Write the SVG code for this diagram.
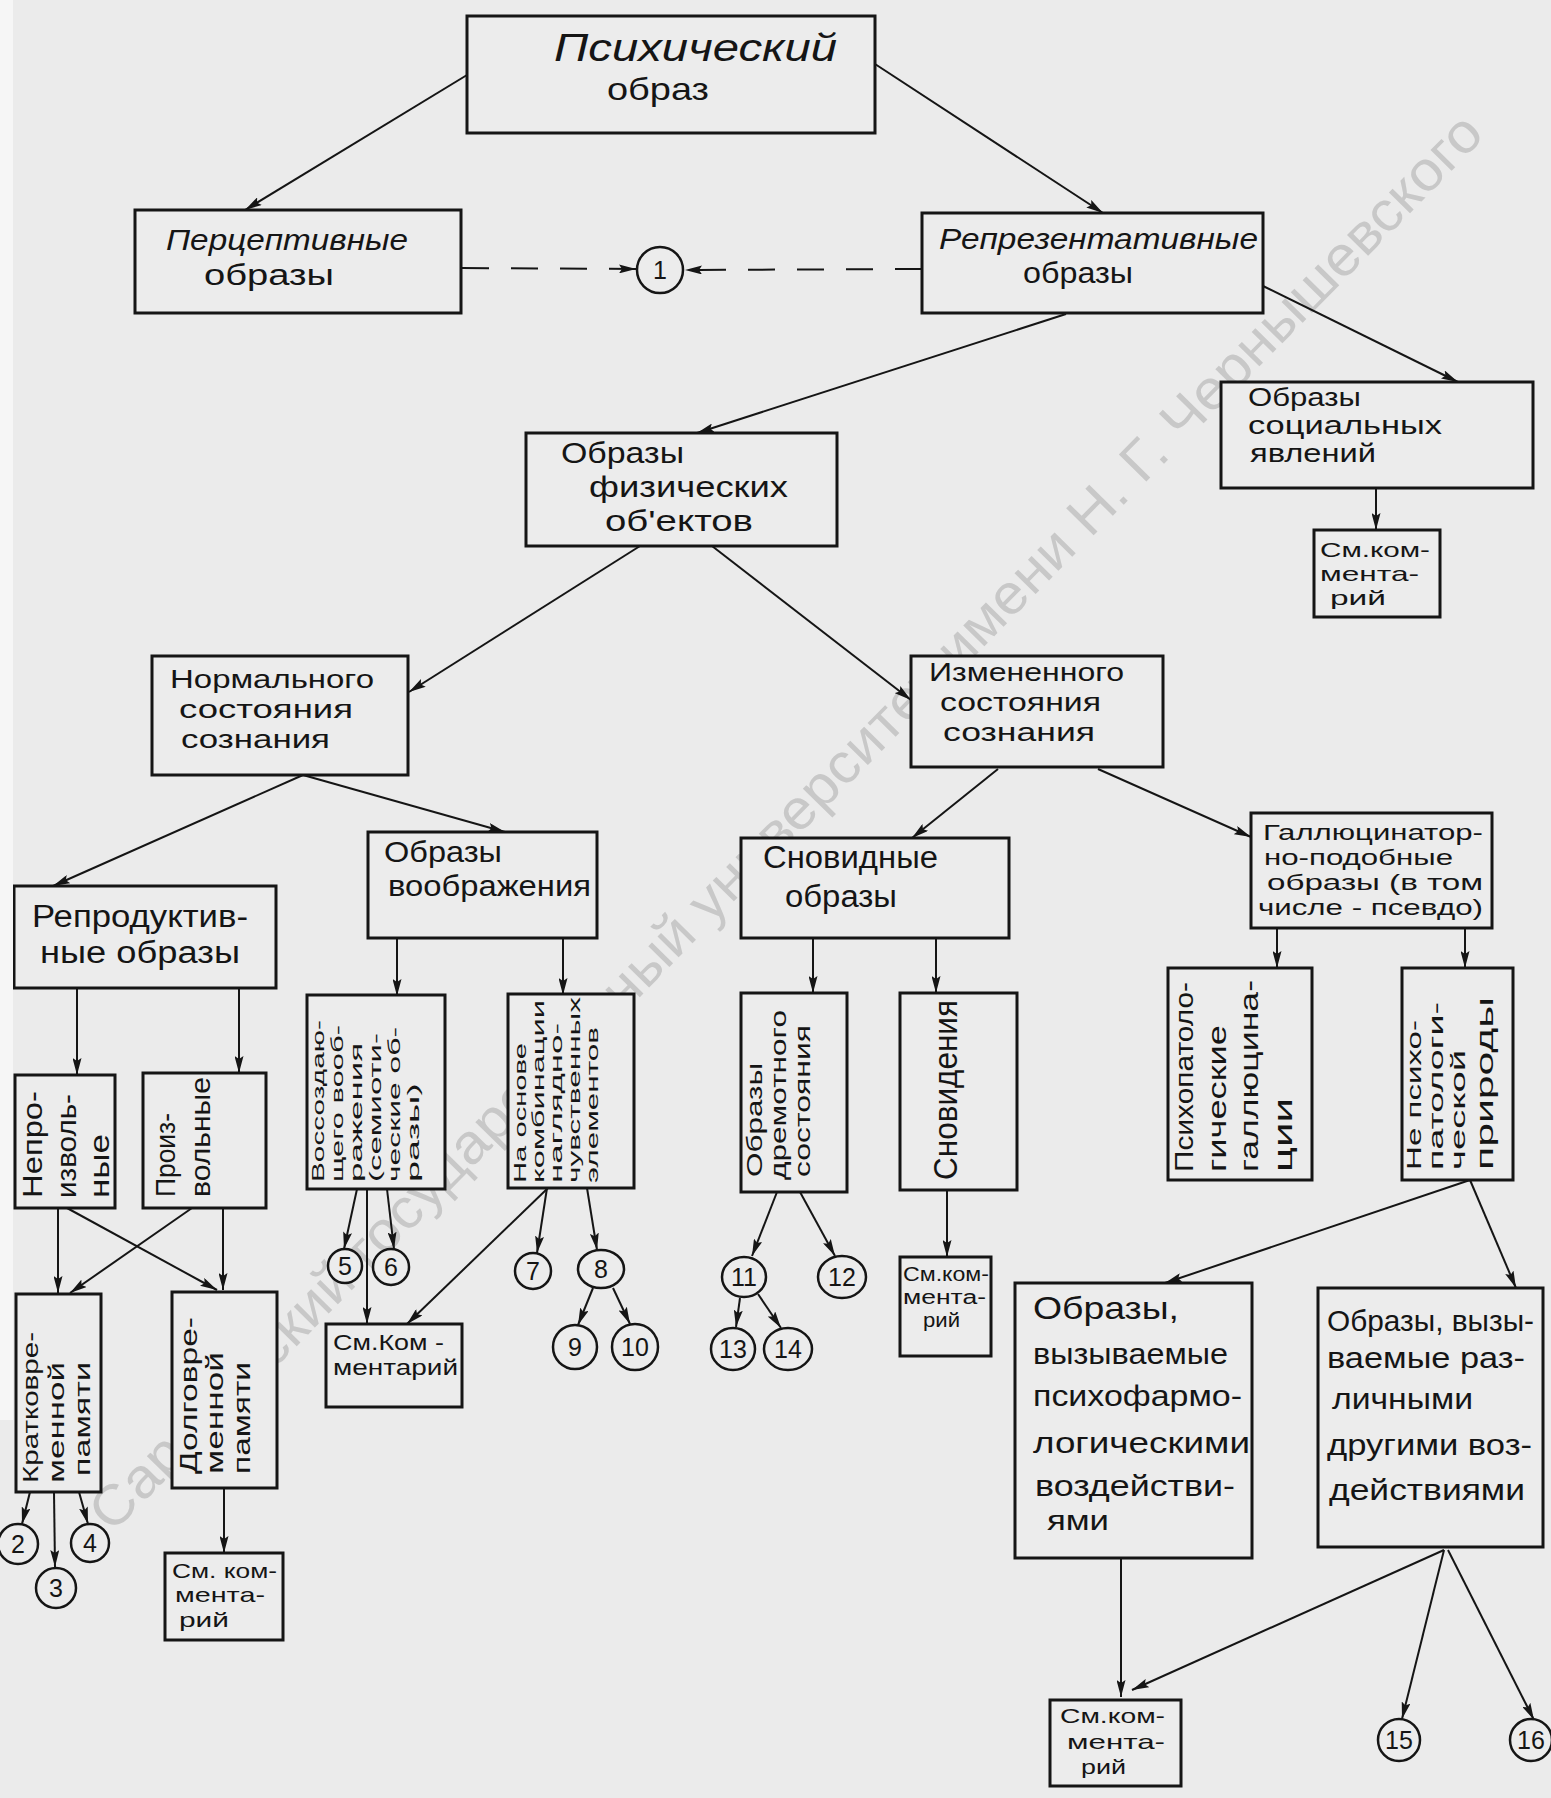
<svg xmlns="http://www.w3.org/2000/svg" width="1551" height="1798" viewBox="0 0 1551 1798">
<style>
.t{font-family:"Liberation Sans",Arial,sans-serif;fill:#151515}
.i{font-style:italic}
.box{fill:#ececec;stroke:#151515;stroke-width:3}
.c{fill:#ececec;stroke:#151515;stroke-width:2.5}
.ln{fill:none;stroke:#151515;stroke-width:2;marker-end:url(#ah)}
.dash{fill:none;stroke:#151515;stroke-width:2;stroke-dasharray:27 22;marker-end:url(#ah)}
.n{font-family:"Liberation Sans",Arial,sans-serif;fill:#151515;font-size:25px;text-anchor:middle}
.wm{font-family:"Liberation Sans",Arial,sans-serif;fill:#c8c8c8;font-size:56px;text-anchor:middle}
</style>
<defs>
<marker id="ah" viewBox="0 0 17 9" refX="17" refY="4.5" markerWidth="17" markerHeight="9" markerUnits="userSpaceOnUse" orient="auto">
<path d="M0,0 L17,4.5 L0,9 L3,4.5 z" fill="#151515"/>
</marker>
</defs>
<rect x="0" y="0" width="1551" height="1798" fill="#ebebeb"/>
<text class="wm" transform="translate(799,835) rotate(-45.5)" textLength="1960" lengthAdjust="spacingAndGlyphs">Саратовский государственный университет имени Н. Г. Чернышевского</text>

<g id="connectors">
<path class="ln" d="M467,75 L245,210"/>
<path class="ln" d="M875,64 L1103,213"/>
<path class="dash" d="M462,268 L636,269"/>
<path class="dash" d="M922,269 L685,270"/>
<path class="ln" d="M1066,314 L697,433"/>
<path class="ln" d="M1263,286 L1458,382"/>
<path class="ln" d="M1376,488 L1376,530"/>
<path class="ln" d="M640,546 L409,692"/>
<path class="ln" d="M712,546 L911,700"/>
<path class="ln" d="M303,775 L53,886"/>
<path class="ln" d="M303,775 L505,832"/>
<path class="ln" d="M77,988 L77,1075"/>
<path class="ln" d="M239,988 L239,1073"/>
<path class="ln" d="M58,1208 L58,1293"/>
<path class="ln" d="M67,1208 L217,1290"/>
<path class="ln" d="M192,1208 L70,1293"/>
<path class="ln" d="M223,1208 L223,1290"/>
<path class="ln" d="M30,1492 L22,1524"/>
<path class="ln" d="M54,1492 L55,1567"/>
<path class="ln" d="M79,1492 L88,1524"/>
<path class="ln" d="M224,1488 L224,1553"/>
<path class="ln" d="M397,938 L397,996"/>
<path class="ln" d="M563,938 L563,995"/>
<path class="ln" d="M357,1189 L344,1249"/>
<path class="ln" d="M367,1189 L367,1324"/>
<path class="ln" d="M387,1189 L394,1249"/>
<path class="ln" d="M548,1188 L407,1324"/>
<path class="ln" d="M547,1188 L537,1253"/>
<path class="ln" d="M587,1188 L597,1250"/>
<path class="ln" d="M593,1288 L578,1325"/>
<path class="ln" d="M613,1288 L630,1324"/>
<path class="ln" d="M998,769 L912,838"/>
<path class="ln" d="M1098,769 L1251,837"/>
<path class="ln" d="M813,938 L813,993"/>
<path class="ln" d="M936,938 L936,993"/>
<path class="ln" d="M777,1192 L752,1256"/>
<path class="ln" d="M800,1192 L835,1256"/>
<path class="ln" d="M740,1298 L736,1327"/>
<path class="ln" d="M758,1294 L781,1328"/>
<path class="ln" d="M947,1190 L947,1257"/>
<path class="ln" d="M1277,928 L1277,968"/>
<path class="ln" d="M1465,928 L1465,968"/>
<path class="ln" d="M1470,1180 L1165,1283"/>
<path class="ln" d="M1470,1180 L1516,1288"/>
<path class="ln" d="M1121,1558 L1121,1697"/>
<path class="ln" d="M1444,1550 L1132,1690"/>
<path class="ln" d="M1444,1550 L1402,1719"/>
<path class="ln" d="M1448,1550 L1534,1720"/>
</g>

<g id="n-psych">
<rect class="box" x="467" y="16" width="408" height="117"/>
<text class="t i" x="554" y="61" font-size="38" textLength="283" lengthAdjust="spacingAndGlyphs">Психический</text>
<text class="t" x="607" y="100" font-size="32" textLength="102" lengthAdjust="spacingAndGlyphs">образ</text>
</g>
<g id="n-percept">
<rect class="box" x="135" y="210" width="326" height="103"/>
<text class="t i" x="166" y="250" font-size="30" textLength="242" lengthAdjust="spacingAndGlyphs">Перцептивные</text>
<text class="t" x="204" y="285" font-size="30" textLength="130" lengthAdjust="spacingAndGlyphs">образы</text>
</g>
<g id="n-one">
<circle class="c" cx="660" cy="270" r="23"/>
<text class="n" x="660" y="279">1</text>
</g>
<g id="n-repr">
<rect class="box" x="922" y="213" width="341" height="100"/>
<text class="t i" x="939" y="249" font-size="30" textLength="319" lengthAdjust="spacingAndGlyphs">Репрезентативные</text>
<text class="t" x="1023" y="283" font-size="30" textLength="110" lengthAdjust="spacingAndGlyphs">образы</text>
</g>
<g id="n-social">
<rect class="box" x="1221" y="382" width="312" height="106"/>
<text class="t" x="1248" y="406" font-size="25" textLength="113" lengthAdjust="spacingAndGlyphs">Образы</text>
<text class="t" x="1248" y="434" font-size="25" textLength="194" lengthAdjust="spacingAndGlyphs">социальных</text>
<text class="t" x="1250" y="462" font-size="25" textLength="126" lengthAdjust="spacingAndGlyphs">явлений</text>
</g>
<g id="n-social-see">
<rect class="box" x="1314" y="530" width="126" height="87"/>
<text class="t" x="1320" y="557" font-size="21" textLength="110" lengthAdjust="spacingAndGlyphs">См.ком-</text>
<text class="t" x="1320" y="581" font-size="21" textLength="99" lengthAdjust="spacingAndGlyphs">мента-</text>
<text class="t" x="1330" y="605" font-size="21" textLength="56" lengthAdjust="spacingAndGlyphs">рий</text>
</g>
<g id="n-phys">
<rect class="box" x="526" y="433" width="311" height="113"/>
<text class="t" x="561" y="463" font-size="29" textLength="123" lengthAdjust="spacingAndGlyphs">Образы</text>
<text class="t" x="589" y="497" font-size="29" textLength="199" lengthAdjust="spacingAndGlyphs">физических</text>
<text class="t" x="605" y="531" font-size="29" textLength="148" lengthAdjust="spacingAndGlyphs">об'ектов</text>
</g>
<g id="n-norm">
<rect class="box" x="152" y="656" width="256" height="119"/>
<text class="t" x="170" y="688" font-size="26" textLength="204" lengthAdjust="spacingAndGlyphs">Нормального</text>
<text class="t" x="179" y="718" font-size="26" textLength="174" lengthAdjust="spacingAndGlyphs">состояния</text>
<text class="t" x="181" y="748" font-size="26" textLength="149" lengthAdjust="spacingAndGlyphs">сознания</text>
</g>
<g id="n-changed">
<rect class="box" x="911" y="656" width="252" height="111"/>
<text class="t" x="929" y="681" font-size="26" textLength="195" lengthAdjust="spacingAndGlyphs">Измененного</text>
<text class="t" x="940" y="711" font-size="26" textLength="161" lengthAdjust="spacingAndGlyphs">состояния</text>
<text class="t" x="943" y="741" font-size="26" textLength="152" lengthAdjust="spacingAndGlyphs">сознания</text>
</g>
<g id="n-repro">
<rect class="box" x="14" y="886" width="262" height="102"/>
<text class="t" x="32" y="927" font-size="31" textLength="216" lengthAdjust="spacingAndGlyphs">Репродуктив-</text>
<text class="t" x="40" y="963" font-size="31" textLength="200" lengthAdjust="spacingAndGlyphs">ные образы</text>
</g>
<g id="n-imag">
<rect class="box" x="368" y="832" width="229" height="106"/>
<text class="t" x="384" y="862" font-size="29" textLength="118" lengthAdjust="spacingAndGlyphs">Образы</text>
<text class="t" x="388" y="896" font-size="29" textLength="203" lengthAdjust="spacingAndGlyphs">воображения</text>
</g>
<g id="n-dreamlike">
<rect class="box" x="741" y="838" width="268" height="100"/>
<text class="t" x="763" y="868" font-size="31" textLength="175" lengthAdjust="spacingAndGlyphs">Сновидные</text>
<text class="t" x="785" y="907" font-size="31" textLength="112" lengthAdjust="spacingAndGlyphs">образы</text>
</g>
<g id="n-halluc">
<rect class="box" x="1251" y="813" width="241" height="115"/>
<text class="t" x="1263" y="840" font-size="22" textLength="220" lengthAdjust="spacingAndGlyphs">Галлюцинатор-</text>
<text class="t" x="1264" y="865" font-size="22" textLength="189" lengthAdjust="spacingAndGlyphs">но-подобные</text>
<text class="t" x="1267" y="890" font-size="22" textLength="216" lengthAdjust="spacingAndGlyphs">образы (в том</text>
<text class="t" x="1258" y="915" font-size="22" textLength="225" lengthAdjust="spacingAndGlyphs">числе - псевдо)</text>
</g>
<g id="n-involuntary">
<rect class="box" x="15" y="1075" width="100" height="133"/>
<text class="t" transform="translate(42,1198) rotate(-90)" font-size="27" textLength="107" lengthAdjust="spacingAndGlyphs">Непро-</text>
<text class="t" transform="translate(76,1198) rotate(-90)" font-size="27" textLength="104" lengthAdjust="spacingAndGlyphs">изволь-</text>
<text class="t" transform="translate(109,1198) rotate(-90)" font-size="27" textLength="64" lengthAdjust="spacingAndGlyphs">ные</text>
</g>
<g id="n-voluntary">
<rect class="box" x="143" y="1073" width="123" height="135"/>
<text class="t" transform="translate(175,1197) rotate(-90)" font-size="27" textLength="84" lengthAdjust="spacingAndGlyphs">Произ-</text>
<text class="t" transform="translate(210,1197) rotate(-90)" font-size="27" textLength="120" lengthAdjust="spacingAndGlyphs">вольные</text>
</g>
<g id="n-short">
<rect class="box" x="16" y="1294" width="85" height="198"/>
<text class="t" transform="translate(38,1483) rotate(-90)" font-size="22" textLength="151" lengthAdjust="spacingAndGlyphs">Кратковре-</text>
<text class="t" transform="translate(64,1483) rotate(-90)" font-size="22" textLength="121" lengthAdjust="spacingAndGlyphs">менной</text>
<text class="t" transform="translate(90,1476) rotate(-90)" font-size="22" textLength="114" lengthAdjust="spacingAndGlyphs">памяти</text>
</g>
<g id="n-long">
<rect class="box" x="172" y="1292" width="105" height="196"/>
<text class="t" transform="translate(197,1474) rotate(-90)" font-size="23" textLength="157" lengthAdjust="spacingAndGlyphs">Долговре-</text>
<text class="t" transform="translate(223,1474) rotate(-90)" font-size="23" textLength="122" lengthAdjust="spacingAndGlyphs">менной</text>
<text class="t" transform="translate(250,1474) rotate(-90)" font-size="23" textLength="112" lengthAdjust="spacingAndGlyphs">памяти</text>
</g>
<g id="n-c2"><circle class="c" cx="18" cy="1544" r="20"/><text class="n" x="18" y="1553">2</text></g>
<g id="n-c3"><circle class="c" cx="56" cy="1588" r="20"/><text class="n" x="56" y="1597">3</text></g>
<g id="n-c4"><circle class="c" cx="90" cy="1543" r="19"/><text class="n" x="90" y="1552">4</text></g>
<g id="n-long-see">
<rect class="box" x="165" y="1553" width="118" height="87"/>
<text class="t" x="172" y="1578" font-size="21" textLength="105" lengthAdjust="spacingAndGlyphs">См. ком-</text>
<text class="t" x="175" y="1602" font-size="21" textLength="90" lengthAdjust="spacingAndGlyphs">мента-</text>
<text class="t" x="179" y="1627" font-size="21" textLength="50" lengthAdjust="spacingAndGlyphs">рий</text>
</g>
<g id="n-recreating">
<rect class="box" x="307" y="995" width="138" height="194"/>
<text class="t" transform="translate(324,1182) rotate(-90)" font-size="17" textLength="162" lengthAdjust="spacingAndGlyphs">Воссоздаю-</text>
<text class="t" transform="translate(343,1182) rotate(-90)" font-size="17" textLength="157" lengthAdjust="spacingAndGlyphs">щего вооб-</text>
<text class="t" transform="translate(362,1182) rotate(-90)" font-size="17" textLength="139" lengthAdjust="spacingAndGlyphs">ражения</text>
<text class="t" transform="translate(381,1182) rotate(-90)" font-size="17" textLength="149" lengthAdjust="spacingAndGlyphs">(семиоти-</text>
<text class="t" transform="translate(400,1182) rotate(-90)" font-size="17" textLength="155" lengthAdjust="spacingAndGlyphs">ческие об-</text>
<text class="t" transform="translate(419,1182) rotate(-90)" font-size="17" textLength="99" lengthAdjust="spacingAndGlyphs">разы)</text>
</g>
<g id="n-combination">
<rect class="box" x="508" y="994" width="126" height="194"/>
<text class="t" transform="translate(526,1183) rotate(-90)" font-size="16" textLength="140" lengthAdjust="spacingAndGlyphs">На основе</text>
<text class="t" transform="translate(544,1183) rotate(-90)" font-size="16" textLength="183" lengthAdjust="spacingAndGlyphs">комбинации</text>
<text class="t" transform="translate(562,1183) rotate(-90)" font-size="16" textLength="160" lengthAdjust="spacingAndGlyphs">наглядно-</text>
<text class="t" transform="translate(580,1183) rotate(-90)" font-size="16" textLength="186" lengthAdjust="spacingAndGlyphs">чувственных</text>
<text class="t" transform="translate(598,1183) rotate(-90)" font-size="16" textLength="156" lengthAdjust="spacingAndGlyphs">элементов</text>
</g>
<g id="n-c5"><circle class="c" cx="345" cy="1266" r="17"/><text class="n" x="345" y="1275">5</text></g>
<g id="n-c6"><circle class="c" cx="391" cy="1267" r="18"/><text class="n" x="391" y="1276">6</text></g>
<g id="n-c7"><circle class="c" cx="533" cy="1271" r="18"/><text class="n" x="533" y="1280">7</text></g>
<g id="n-c8"><ellipse class="c" cx="601" cy="1269" rx="23" ry="19"/><text class="n" x="601" y="1278">8</text></g>
<g id="n-c9"><circle class="c" cx="575" cy="1347" r="22"/><text class="n" x="575" y="1356">9</text></g>
<g id="n-c10"><circle class="c" cx="635" cy="1347" r="23"/><text class="n" x="635" y="1356">10</text></g>
<g id="n-imag-see">
<rect class="box" x="326" y="1324" width="136" height="83"/>
<text class="t" x="333" y="1350" font-size="22" textLength="111" lengthAdjust="spacingAndGlyphs">См.Ком -</text>
<text class="t" x="333" y="1375" font-size="22" textLength="125" lengthAdjust="spacingAndGlyphs">ментарий</text>
</g>
<g id="n-drowsy">
<rect class="box" x="741" y="993" width="106" height="199"/>
<text class="t" transform="translate(762,1177) rotate(-90)" font-size="22" textLength="114" lengthAdjust="spacingAndGlyphs">Образы</text>
<text class="t" transform="translate(786,1180) rotate(-90)" font-size="22" textLength="170" lengthAdjust="spacingAndGlyphs">дремотного</text>
<text class="t" transform="translate(810,1177) rotate(-90)" font-size="22" textLength="152" lengthAdjust="spacingAndGlyphs">состояния</text>
</g>
<g id="n-dreams">
<rect class="box" x="900" y="993" width="117" height="197"/>
<text class="t" transform="translate(957,1180) rotate(-90)" font-size="34" textLength="180" lengthAdjust="spacingAndGlyphs">Сновидения</text>
</g>
<g id="n-c11"><ellipse class="c" cx="744" cy="1277" rx="22" ry="20"/><text class="n" x="744" y="1286">11</text></g>
<g id="n-c12"><ellipse class="c" cx="842" cy="1277" rx="24" ry="21"/><text class="n" x="842" y="1286">12</text></g>
<g id="n-c13"><ellipse class="c" cx="733" cy="1349" rx="22" ry="21"/><text class="n" x="733" y="1358">13</text></g>
<g id="n-c14"><ellipse class="c" cx="788" cy="1349" rx="24" ry="21"/><text class="n" x="788" y="1358">14</text></g>
<g id="n-dreams-see">
<rect class="box" x="900" y="1257" width="91" height="99"/>
<text class="t" x="903" y="1281" font-size="20" textLength="86" lengthAdjust="spacingAndGlyphs">См.ком-</text>
<text class="t" x="903" y="1304" font-size="20" textLength="83" lengthAdjust="spacingAndGlyphs">мента-</text>
<text class="t" x="923" y="1327" font-size="20" textLength="37" lengthAdjust="spacingAndGlyphs">рий</text>
</g>
<g id="n-psychopath">
<rect class="box" x="1168" y="968" width="144" height="212"/>
<text class="t" transform="translate(1193,1172) rotate(-90)" font-size="26" textLength="190" lengthAdjust="spacingAndGlyphs">Психопатоло-</text>
<text class="t" transform="translate(1226,1172) rotate(-90)" font-size="26" textLength="147" lengthAdjust="spacingAndGlyphs">гические</text>
<text class="t" transform="translate(1258,1172) rotate(-90)" font-size="26" textLength="192" lengthAdjust="spacingAndGlyphs">галлюцина-</text>
<text class="t" transform="translate(1292,1172) rotate(-90)" font-size="26" textLength="74" lengthAdjust="spacingAndGlyphs">ции</text>
</g>
<g id="n-nonpath">
<rect class="box" x="1402" y="968" width="111" height="212"/>
<text class="t" transform="translate(1421,1170) rotate(-90)" font-size="20" textLength="150" lengthAdjust="spacingAndGlyphs">Не психо-</text>
<text class="t" transform="translate(1443,1170) rotate(-90)" font-size="20" textLength="168" lengthAdjust="spacingAndGlyphs">патологи-</text>
<text class="t" transform="translate(1465,1170) rotate(-90)" font-size="20" textLength="120" lengthAdjust="spacingAndGlyphs">ческой</text>
<text class="t" transform="translate(1493,1170) rotate(-90)" font-size="24" textLength="173" lengthAdjust="spacingAndGlyphs">природы</text>
</g>
<g id="n-pharm">
<rect class="box" x="1015" y="1283" width="237" height="275"/>
<text class="t" x="1033" y="1319" font-size="32" textLength="146" lengthAdjust="spacingAndGlyphs">Образы,</text>
<text class="t" x="1033" y="1364" font-size="30" textLength="195" lengthAdjust="spacingAndGlyphs">вызываемые</text>
<text class="t" x="1033" y="1406" font-size="30" textLength="209" lengthAdjust="spacingAndGlyphs">психофармо-</text>
<text class="t" x="1033" y="1453" font-size="30" textLength="217" lengthAdjust="spacingAndGlyphs">логическими</text>
<text class="t" x="1035" y="1496" font-size="30" textLength="200" lengthAdjust="spacingAndGlyphs">воздействи-</text>
<text class="t" x="1047" y="1530" font-size="28" textLength="62" lengthAdjust="spacingAndGlyphs">ями</text>
</g>
<g id="n-other">
<rect class="box" x="1318" y="1288" width="225" height="259"/>
<text class="t" x="1327" y="1331" font-size="30" textLength="207" lengthAdjust="spacingAndGlyphs">Образы, вызы-</text>
<text class="t" x="1327" y="1368" font-size="30" textLength="198" lengthAdjust="spacingAndGlyphs">ваемые раз-</text>
<text class="t" x="1332" y="1409" font-size="30" textLength="141" lengthAdjust="spacingAndGlyphs">личными</text>
<text class="t" x="1327" y="1455" font-size="30" textLength="205" lengthAdjust="spacingAndGlyphs">другими воз-</text>
<text class="t" x="1329" y="1500" font-size="30" textLength="196" lengthAdjust="spacingAndGlyphs">действиями</text>
</g>
<g id="n-bottom-see">
<rect class="box" x="1050" y="1700" width="131" height="86"/>
<text class="t" x="1060" y="1723" font-size="21" textLength="105" lengthAdjust="spacingAndGlyphs">См.ком-</text>
<text class="t" x="1067" y="1749" font-size="21" textLength="98" lengthAdjust="spacingAndGlyphs">мента-</text>
<text class="t" x="1081" y="1774" font-size="21" textLength="45" lengthAdjust="spacingAndGlyphs">рий</text>
</g>
<g id="n-c15"><circle class="c" cx="1399" cy="1740" r="21"/><text class="n" x="1399" y="1749">15</text></g>
<g id="n-c16"><circle class="c" cx="1531" cy="1740" r="21"/><text class="n" x="1531" y="1749">16</text></g>
<rect x="0" y="0" width="13" height="1420" fill="#f6f6f6"/>
</svg>
